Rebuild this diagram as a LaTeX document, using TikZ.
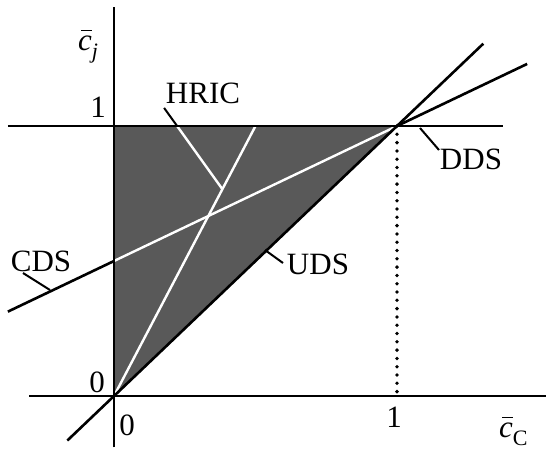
\documentclass[tikz,border=0pt]{standalone}
\usepackage{fontspec}
\setmainfont{Liberation Serif}
\newcommand\cbarsym{\rlap{\kern0.1em\raisebox{0.6em}{\rule{0.34em}{0.06em}}}\textit{c}}
\newcommand\subtxt[1]{\raisebox{-0.28em}{\fontsize{22}{24}\selectfont #1}}
\begin{document}
\begin{tikzpicture}[x=1pt,y=-1pt,
  blk/.style={line width=2.6pt},
  wht/.style={white,line width=2.4pt},
  shade/.style={fill=black!65},
  dots/.style={line width=3.8pt,line cap=round,dash pattern=on 0pt off 8.3pt},
  lbl/.style={font=\fontsize{31}{36}\selectfont,inner sep=0pt},
  leader/.style={line width=2pt}]
\useasboundingbox (0,0) rectangle (547,451);
\begin{scope}[shift={(114,396)},x=283pt,y=270pt]
  \coordinate (O) at (0,0);
  \coordinate (A) at (0,1);
  \coordinate (B) at (1,1);
  \coordinate (B0) at (1,0);
  \coordinate (C0) at (0,0.5);
  \coordinate (M) at (0.5,1);
  \coordinate (H1) at (0.223,1);
  \coordinate (H2) at (0.383,0.766);
  \coordinate (Htop) at (0.177,1.067);
  \coordinate (xl) at (-0.3,0);
  \coordinate (xr) at (1.525,0);
  \coordinate (yb) at (0,-0.19);
  \coordinate (yt) at (0,1.44);
  \coordinate (hl) at (-0.375,1);
  \coordinate (hr) at (1.375,1);
  \coordinate (ul) at (-0.165,-0.165);
  \coordinate (ur) at (1.305,1.305);
  \coordinate (cl) at (-0.375,0.3125);
  \coordinate (cr) at (1.46,1.23);
  % shaded region
  \fill[shade] (O) -- (A) -- (B) -- cycle;
  % white lines inside
  \draw[wht] (C0) -- (B);
  \draw[wht] (O) -- (M);
  \draw[wht] (H1) -- (H2);
  % black lines
  \draw[blk] (xl) -- (xr);
  \draw[blk] (yb) -- (yt);
  \draw[blk] (hl) -- (hr);
  \draw[blk] (ul) -- (ur);
  \draw[blk] (cl) -- (C0);
  \draw[blk] (B) -- (cr);
  \draw[leader] (Htop) -- (H1);
  \draw[dots] (B) -- (B0);
\end{scope}
% labels
\node[lbl,anchor=base west] (cj) at (78,50) {\cbarsym\subtxt{\textit{j}}};
\node[lbl] (y1) at (98,107) {1};
\node[lbl] (y0) at (97,382) {0};
\node[lbl] (x0) at (127,425) {0};
\node[lbl] (x1) at (394,417) {1};
\node[lbl,anchor=base west] (cc) at (499,437) {\cbarsym\subtxt{C}};
\node[lbl] (cds) at (41,261) {CDS};
\node[lbl] (uds) at (318,264) {UDS};
\node[lbl] (dds) at (471,159) {DDS};
\node[lbl] (hric) at (203,93) {HRIC};
% leaders
\coordinate (cdsA) at (23,273);
\coordinate (cdsB) at (50,290);
\coordinate (udsA) at (265,250);
\coordinate (udsB) at (283,263);
\coordinate (ddsA) at (420,128);
\coordinate (ddsB) at (439,150);
\draw[leader] (cdsA) -- (cdsB);
\draw[leader] (udsA) -- (udsB);
\draw[leader] (ddsA) -- (ddsB);
\end{tikzpicture}
\end{document}
